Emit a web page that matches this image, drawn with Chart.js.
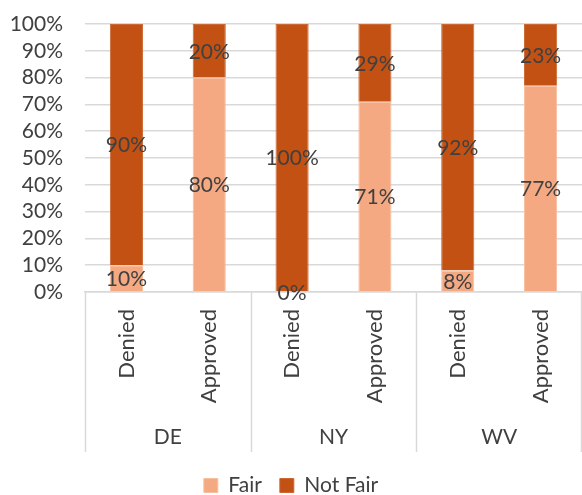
<!DOCTYPE html>
<html>
<head>
<meta charset="utf-8">
<script src="https://cdn.jsdelivr.net/npm/chart.js@4/dist/chart.umd.min.js"></script>
<style>
  html, body { margin: 0; padding: 0; background: #fff; }
  #wrap { width: 582px; height: 495px; }
</style>
</head>
<body>
<div id="wrap"><canvas id="c" width="582" height="495"></canvas></div>
<script>
// Outcome per state, split into "Denied" and "Approved" bars
const categories = ['Denied', 'Approved', 'Denied', 'Approved', 'Denied', 'Approved'];
const groups = ['DE', 'NY', 'WV'];
const fair = [10, 80, 0, 71, 8, 77];
const notFair = [90, 20, 100, 29, 92, 23];
const yTicks = [0, 10, 20, 30, 40, 50, 60, 70, 80, 90, 100];

const FONT = 'Lato, "Open Sans", sans-serif';
const TEXT = '#404040';
const GRID = '#d9d9d9';
const AXIS_H = 165;   // space under the plot for bar labels and state names
const SEP_H = 160;    // length of the separator lines between states

// Percent labels centred in each stacked segment
const segmentLabels = {
  id: 'segmentLabels',
  afterDatasetsDraw(chart) {
    const ctx = chart.ctx;
    ctx.save();
    ctx.font = '21px ' + FONT;
    ctx.fillStyle = TEXT;
    ctx.textAlign = 'center';
    ctx.textBaseline = 'middle';
    chart.data.datasets.forEach((ds, i) => {
      const meta = chart.getDatasetMeta(i);
      meta.data.forEach((el, j) => {
        const v = ds.data[j];
        const y = (el.y + el.base) / 2;
        ctx.fillText(v + '%', el.x, y + 1);
      });
    });
    ctx.restore();
  }
};

// State names below the bar labels, with separator lines between pairs
const groupAxis = {
  id: 'groupAxis',
  afterDraw(chart) {
    const ctx = chart.ctx;
    const x = chart.scales.x;
    const area = chart.chartArea;
    const top = area.bottom;
    const bottom = top + SEP_H;
    const n = categories.length;
    const step = (x.right - x.left) / n;
    ctx.save();
    ctx.strokeStyle = GRID;
    ctx.lineWidth = 1.5;
    for (let g = 0; g <= groups.length; g++) {
      let px = x.left + g * 2 * step;
      if (g === groups.length) px = Math.min(px, chart.width - 1);
      ctx.beginPath();
      ctx.moveTo(Math.round(px) + 0.5, top);
      ctx.lineTo(Math.round(px) + 0.5, bottom);
      ctx.stroke();
    }
    ctx.font = '21px ' + FONT;
    ctx.fillStyle = TEXT;
    ctx.textAlign = 'center';
    ctx.textBaseline = 'middle';
    groups.forEach((g, i) => {
      const cx = (x.getPixelForValue(2 * i) + x.getPixelForValue(2 * i + 1)) / 2;
      ctx.fillText(g, cx, top + 145);
    });
    ctx.restore();
  }
};

new Chart(document.getElementById('c'), {
  type: 'bar',
  data: {
    labels: categories,
    datasets: [
      { label: 'Fair', data: fair, backgroundColor: '#F4A982', borderColor: '#F7BFA0', borderWidth: 1, barPercentage: 0.4, categoryPercentage: 1 },
      { label: 'Not Fair', data: notFair, backgroundColor: '#C25113', borderColor: '#CC6A36', borderWidth: 1, barPercentage: 0.4, categoryPercentage: 1 }
    ]
  },
  options: {
    responsive: false,
    animation: false,
    layout: { padding: { top: 24, right: 0, left: 0, bottom: -11 } },
    plugins: {
      legend: {
        position: 'bottom',
        labels: {
          font: { family: FONT, size: 21 },
          color: TEXT,
          boxWidth: 14,
          boxHeight: 14,
          padding: 18
        }
      },
      tooltip: { enabled: false }
    },
    scales: {
      x: {
        stacked: true,
        grid: { display: false },
        border: { display: true, color: GRID, width: 1.5 },
        ticks: {
          font: { family: FONT, size: 22 },
          color: TEXT,
          autoSkip: false,
          minRotation: 90,
          maxRotation: 90,
          padding: 9
        },
        afterFit(scale) { scale.height = AXIS_H; }
      },
      y: {
        stacked: true,
        min: 0,
        max: 100,
        afterBuildTicks(scale) { scale.ticks = yTicks.map(v => ({ value: v })); },
        grid: { color: GRID, lineWidth: 1.5, drawTicks: false },
        border: { display: false },
        ticks: {
          font: { family: FONT, size: 21 },
          color: TEXT,
          autoSkip: false,
          padding: 22,
          callback: v => v + '%'
        },
        afterFit(scale) {
          scale.width = 85;
          scale.paddingTop = 0;
          scale.paddingBottom = 0;
        }
      }
    }
  },
  plugins: [segmentLabels, groupAxis]
});
</script>
</body>
</html>
